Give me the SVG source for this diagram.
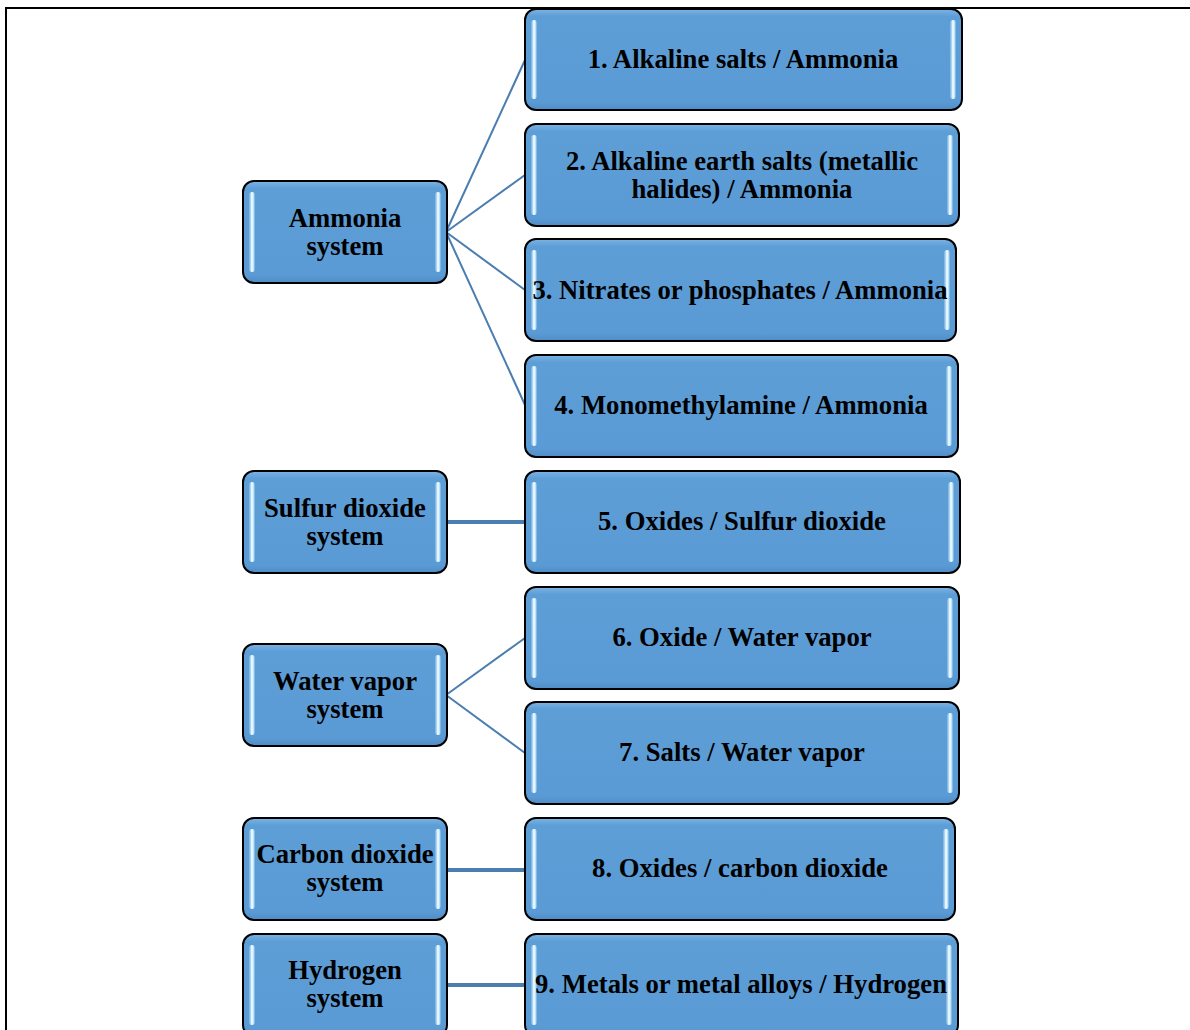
<svg xmlns="http://www.w3.org/2000/svg" width="1190" height="1030" viewBox="0 0 1190 1030">
<style>
.box{fill:url(#bg);stroke:#000;stroke-width:2}
.hl{fill:url(#hlg)}
.t{font-family:"Liberation Serif","Times New Roman",serif;font-weight:bold;font-size:26.7px;fill:#000;text-anchor:middle}
.c{stroke:#4a7db0;stroke-width:2;fill:none}
.ch{stroke:#4a7db0;stroke-width:4;fill:none}
</style>
<defs>
<linearGradient id="bg" x1="0" y1="0" x2="0" y2="1">
<stop offset="0" stop-color="#7db4e4"/>
<stop offset="0.07" stop-color="#5e9ed7"/>
<stop offset="0.92" stop-color="#5b9bd5"/>
<stop offset="1" stop-color="#4f8cc6"/>
</linearGradient>
<linearGradient id="hlg" x1="0" y1="0" x2="1" y2="0">
<stop offset="0" stop-color="#8cc4ee" stop-opacity="0.5"/>
<stop offset="0.45" stop-color="#f2fbff"/>
<stop offset="0.7" stop-color="#d8f2ff"/>
<stop offset="1" stop-color="#8cc4ee" stop-opacity="0.4"/>
</linearGradient>
</defs>
<rect x="6" y="8" width="1190" height="1030" fill="#fff" stroke="#000" stroke-width="2"/>
<g id="connectors">
<line class="c" x1="446" y1="232" x2="525" y2="60"/>
<line class="c" x1="446" y1="232" x2="525" y2="175"/>
<line class="c" x1="446" y1="232" x2="525" y2="290"/>
<line class="c" x1="446" y1="232" x2="525" y2="405"/>
<line class="ch" x1="446" y1="522" x2="525" y2="522"/>
<line class="c" x1="446" y1="695" x2="525" y2="638"/>
<line class="c" x1="446" y1="695" x2="525" y2="753"/>
<line class="ch" x1="446" y1="870" x2="525" y2="870"/>
<line class="ch" x1="446" y1="985" x2="525" y2="985"/>
</g>
<g id="n-ammonia">
<rect class="box" x="243" y="181" width="204" height="102" rx="11"/>
<rect class="hl" x="249" y="192" width="6" height="80" rx="3"/>
<rect class="hl" x="435" y="192" width="6" height="80" rx="3"/>
<text class="t" x="345" y="227">Ammonia</text>
<text class="t" x="345" y="255">system</text>
</g>
<g id="n-sulfur">
<rect class="box" x="243" y="471" width="204" height="102" rx="11"/>
<rect class="hl" x="249" y="482" width="6" height="80" rx="3"/>
<rect class="hl" x="435" y="482" width="6" height="80" rx="3"/>
<text class="t" x="345" y="517">Sulfur dioxide</text>
<text class="t" x="345" y="545">system</text>
</g>
<g id="n-water">
<rect class="box" x="243" y="644" width="204" height="102" rx="11"/>
<rect class="hl" x="249" y="655" width="6" height="80" rx="3"/>
<rect class="hl" x="435" y="655" width="6" height="80" rx="3"/>
<text class="t" x="345" y="690">Water vapor</text>
<text class="t" x="345" y="718">system</text>
</g>
<g id="n-carbon">
<rect class="box" x="243" y="818" width="204" height="102" rx="11"/>
<rect class="hl" x="249" y="829" width="6" height="80" rx="3"/>
<rect class="hl" x="435" y="829" width="6" height="80" rx="3"/>
<text class="t" x="345" y="863">Carbon dioxide</text>
<text class="t" x="345" y="891">system</text>
</g>
<g id="n-hydrogen">
<rect class="box" x="243" y="934" width="204" height="102" rx="11"/>
<rect class="hl" x="249" y="945" width="6" height="80" rx="3"/>
<rect class="hl" x="435" y="945" width="6" height="80" rx="3"/>
<text class="t" x="345" y="979">Hydrogen</text>
<text class="t" x="345" y="1007">system</text>
</g>
<g id="n1">
<rect class="box" x="525" y="9" width="437" height="101" rx="11"/>
<rect class="hl" x="531" y="20" width="6" height="79" rx="3"/>
<rect class="hl" x="950" y="20" width="6" height="79" rx="3"/>
<text class="t" x="743" y="68">1. Alkaline salts / Ammonia</text>
</g>
<g id="n2">
<rect class="box" x="525" y="124" width="434" height="102" rx="11"/>
<rect class="hl" x="531" y="135" width="6" height="80" rx="3"/>
<rect class="hl" x="947" y="135" width="6" height="80" rx="3"/>
<text class="t" x="742" y="170">2. Alkaline earth salts (metallic</text>
<text class="t" x="742" y="198">halides) / Ammonia</text>
</g>
<g id="n3">
<rect class="box" x="525" y="239" width="431" height="102" rx="11"/>
<rect class="hl" x="531" y="250" width="6" height="80" rx="3"/>
<rect class="hl" x="944" y="250" width="6" height="80" rx="3"/>
<text class="t" x="740" y="299" textLength="415" lengthAdjust="spacingAndGlyphs">3. Nitrates or phosphates / Ammonia</text>
</g>
<g id="n4">
<rect class="box" x="525" y="355" width="433" height="102" rx="11"/>
<rect class="hl" x="531" y="366" width="6" height="80" rx="3"/>
<rect class="hl" x="946" y="366" width="6" height="80" rx="3"/>
<text class="t" x="741" y="414">4. Monomethylamine / Ammonia</text>
</g>
<g id="n5">
<rect class="box" x="525" y="471" width="435" height="102" rx="11"/>
<rect class="hl" x="531" y="482" width="6" height="80" rx="3"/>
<rect class="hl" x="948" y="482" width="6" height="80" rx="3"/>
<text class="t" x="742" y="530">5. Oxides / Sulfur dioxide</text>
</g>
<g id="n6">
<rect class="box" x="525" y="587" width="434" height="102" rx="11"/>
<rect class="hl" x="531" y="598" width="6" height="80" rx="3"/>
<rect class="hl" x="947" y="598" width="6" height="80" rx="3"/>
<text class="t" x="742" y="646">6. Oxide / Water vapor</text>
</g>
<g id="n7">
<rect class="box" x="525" y="702" width="434" height="102" rx="11"/>
<rect class="hl" x="531" y="713" width="6" height="80" rx="3"/>
<rect class="hl" x="947" y="713" width="6" height="80" rx="3"/>
<text class="t" x="742" y="761">7. Salts / Water vapor</text>
</g>
<g id="n8">
<rect class="box" x="525" y="818" width="430" height="102" rx="11"/>
<rect class="hl" x="531" y="829" width="6" height="80" rx="3"/>
<rect class="hl" x="943" y="829" width="6" height="80" rx="3"/>
<text class="t" x="740" y="877">8. Oxides / carbon dioxide</text>
</g>
<g id="n9">
<rect class="box" x="525" y="934" width="433" height="102" rx="11"/>
<rect class="hl" x="531" y="945" width="6" height="80" rx="3"/>
<rect class="hl" x="946" y="945" width="6" height="80" rx="3"/>
<text class="t" x="741" y="993" textLength="412" lengthAdjust="spacingAndGlyphs">9. Metals or metal alloys / Hydrogen</text>
</g>
</svg>
